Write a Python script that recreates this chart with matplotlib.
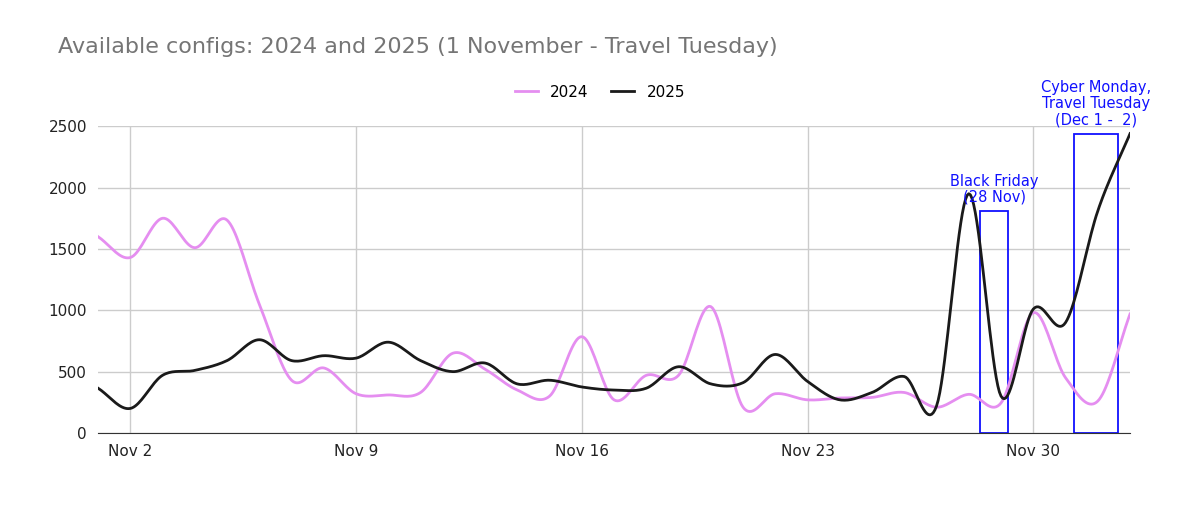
import numpy as np
import matplotlib
matplotlib.use("Agg")
import matplotlib.pyplot as plt
from matplotlib.patches import Rectangle

days = list(range(33))  # 0 = Nov 1 ... 32 = Dec 3
v2024 = [1600,1430,1750,1510,1735,1050,430,530,320,310,330,650,520,350,300,785,
         270,470,470,1030,210,320,270,285,290,330,210,315,245,980,450,260,970]
v2025 = [365,200,470,510,590,760,590,630,610,740,590,500,570,400,430,375,
         350,365,540,400,410,640,420,270,330,460,220,1950,300,1010,900,1810,2440]
tick_pos = [1,8,15,22,29]
tick_labels = ["Nov 2","Nov 9","Nov 16","Nov 23","Nov 30"]

def smooth(x, y, n=20):
    x = np.asarray(x, float); y = np.asarray(y, float)
    xp = np.concatenate([[2*x[0]-x[1]], x, [2*x[-1]-x[-2]]])
    yp = np.concatenate([[2*y[0]-y[1]], y, [2*y[-1]-y[-2]]])
    xs, ys = [], []
    t = np.linspace(0, 1, n, endpoint=False)
    for i in range(1, len(xp)-2):
        for arr, out in ((xp, xs), (yp, ys)):
            p0, p1, p2, p3 = arr[i-1:i+3]
            out.extend(0.5*((2*p1) + (-p0+p2)*t + (2*p0-5*p1+4*p2-p3)*t**2 + (-p0+3*p1-3*p2+p3)*t**3))
    xs.append(x[-1]); ys.append(y[-1])
    return np.array(xs), np.array(ys)

fig = plt.figure(figsize=(12, 5.07), dpi=100)
ax = fig.add_axes([0.0817, 0.146, 0.86, 0.605])
x1, y1 = smooth(days, v2024)
x2, y2 = smooth(days, v2025)
ax.plot(x1, y1, color="#e58ef0", lw=2, label="2024")
ax.plot(x2, y2, color="#1a1a1a", lw=2, label="2025")
ax.set_xlim(0, 32); ax.set_ylim(0, 2500)
ax.set_xticks(tick_pos); ax.set_xticklabels(tick_labels)
ax.set_yticks(range(0, 2501, 500))
ax.grid(True, color="#cccccc", lw=1)
ax.set_axisbelow(True)
for s in ["top", "right", "left"]:
    ax.spines[s].set_visible(False)
ax.spines["bottom"].set_color("#333333")
ax.tick_params(length=0, labelsize=11, colors="#222222", pad=8)

ax.add_patch(Rectangle((27.35, 0), 0.88, 1810, fill=False, ec="#1010ff", lw=1.3, clip_on=False))
ax.add_patch(Rectangle((30.25, 0), 1.38, 2440, fill=False, ec="#1010ff", lw=1.3, clip_on=False))
ax.text(27.8, 1860, "Black Friday\n(28 Nov)", color="#1010ff", ha="center", va="bottom", fontsize=10.5, linespacing=1.1)
ax.text(30.95, 2490, "Cyber Monday,\nTravel Tuesday\n(Dec 1 -  2)", color="#1010ff", ha="center", va="bottom", fontsize=10.5, linespacing=1.1)

fig.text(0.048, 0.895, "Available configs: 2024 and 2025 (1 November - Travel Tuesday)", color="#757575", fontsize=16)
fig.legend(loc="center", bbox_to_anchor=(0.5, 0.818), ncol=2, frameon=False, fontsize=11,
           handlelength=1.5, columnspacing=1.5)
fig.savefig("out.png", dpi=100)
